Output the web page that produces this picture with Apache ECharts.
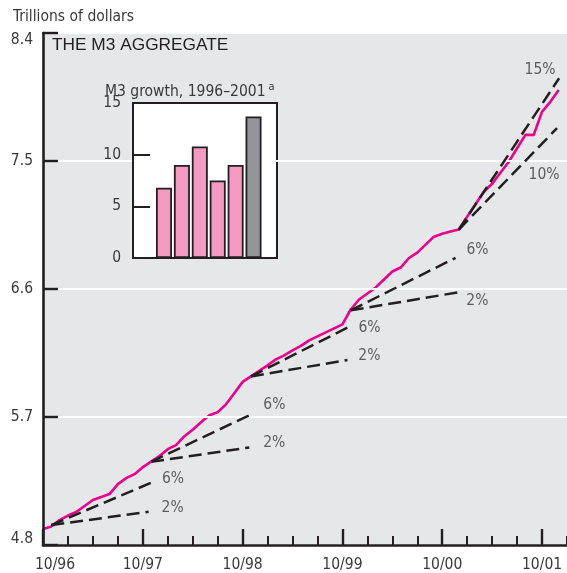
<!DOCTYPE html>
<html><head><meta charset="utf-8">
<script src="https://cdn.jsdelivr.net/npm/echarts@6.0.0/dist/echarts.min.js"></script>
<style>html,body{margin:0;padding:0;background:#fff;overflow:hidden}#c{width:567px;height:573px}</style>
</head><body><div id="c"></div>
<script>
// ---------- DATA ----------
// M3 level, trillions of dollars, monthly from 10/96 (index 0) to 12/01
const m3Values = [
  4.912, 4.930, 4.975, 5.007, 5.032, 5.074, 5.116, 5.137, 5.158, 5.228, 5.270, 5.298,
  5.347, 5.386, 5.425, 5.474, 5.502, 5.565, 5.611, 5.663, 5.712, 5.733, 5.789, 5.867,
  5.947, 5.986, 6.025, 6.063, 6.105, 6.133, 6.168, 6.200, 6.239, 6.267, 6.295, 6.323,
  6.351, 6.456, 6.526, 6.568, 6.611, 6.667, 6.723, 6.751, 6.818, 6.856, 6.912, 6.968,
  6.989, 7.004, 7.018, 7.109, 7.196, 7.284, 7.340, 7.418, 7.495, 7.590, 7.684, 7.684,
  7.846, 7.916, 8.000
];
const xTickLabels = ['10/96', '10/97', '10/98', '10/99', '10/00', '10/01'];
const yTickValues = [4.8, 5.7, 6.6, 7.5, 8.4];

// trend (growth-rate) reference lines: start/end month index and level
const trendNames      = ['2%', '6%', '2%', '6%', '2%', '6%', '2%', '6%', '10%', '15%'];
const trendStartMonth = [1, 1, 13, 13, 25, 25, 37, 37, 50, 50];
const trendStartValue = [4.940, 4.940, 5.385, 5.385, 5.985, 5.985, 6.450, 6.450, 7.018, 7.018];
const trendEndMonth   = [12.7, 13.1, 24.8, 25.05, 36.6, 36.97, 50.06, 49.6, 61.8, 62.05];
const trendEndValue   = [5.034, 5.240, 5.486, 5.719, 6.101, 6.339, 6.578, 6.819, 7.731, 8.082];

// inset: M3 growth by year, percent
const growthYears  = ['1996', '1997', '1998', '1999', '2000', '2001'];
const growthValues = [6.8, 9.0, 10.8, 7.5, 9.0, 13.7];
const growthTicks  = [0, 5, 10, 15];

// ---------- LAYOUT / STYLE ----------
function pickFont(list, fallback) {
  const c = document.createElement('canvas').getContext('2d');
  const t = 'Trillions of dollars 1996 AGGREGATE';
  c.font = '40px monospace'; const wm = c.measureText(t).width;
  c.font = '40px serif'; const ws = c.measureText(t).width;
  for (const f of list) {
    c.font = '40px "' + f + '", monospace'; const a = c.measureText(t).width;
    c.font = '40px "' + f + '", serif'; const b = c.measureText(t).width;
    if (a !== wm || b !== ws) return f;
  }
  return fallback;
}
const NARROW = pickFont(['Liberation Sans Narrow', 'Arial Narrow', 'DejaVu Sans Condensed', 'Roboto Condensed'], 'Liberation Sans');
const NS = NARROW === 'Liberation Sans Narrow' || NARROW === 'Arial Narrow' ? 18 : 15.5;
const REG = pickFont(['Liberation Sans', 'Arial', 'Helvetica'], 'sans-serif');
const TXT = '#3a3a3a';
const INK = '#231f20';
const PINK = '#ec008c';

// label offsets for the trend labels (layout only)
const trendLabelOffset = [[24,-4],[21,-3],[25,-4],[23,-9],[22,-4],[19,2],[18,9],[22,-8],[-13,47],[-19,-8]];

const X_MAX = 63;

const series = [];
series.push({
  type: 'line', xAxisIndex: 0, yAxisIndex: 0,
  data: m3Values.map((v, i) => [i, v]),
  showSymbol: false, symbol: 'none',
  lineStyle: { color: PINK, width: 2.6, join: 'round' },
  z: 3, silent: true
});
trendNames.forEach((n, k) => {
  series.push({
    type: 'line', xAxisIndex: 0, yAxisIndex: 0,
    data: [[trendStartMonth[k], trendStartValue[k]], [trendEndMonth[k], trendEndValue[k]]],
    showSymbol: false, symbol: 'none',
    lineStyle: { color: INK, width: 2.5, type: [13, 6] },
    z: 4, silent: true
  });
});
series.push({
  type: 'scatter', xAxisIndex: 0, yAxisIndex: 0,
  data: trendNames.map((n, k) => ({
    value: [trendEndMonth[k], trendEndValue[k]],
    label: { offset: trendLabelOffset[k] }
  })),
  symbolSize: 1,
  itemStyle: { color: 'rgba(0,0,0,0)' },
  label: {
    show: true, position: 'inside',
    formatter: p => trendNames[p.dataIndex],
    color: TXT, fontFamily: NARROW, fontSize: NS
  },
  z: 5, silent: true
});
series.push({
  type: 'bar', xAxisIndex: 3, yAxisIndex: 1,
  data: growthValues.map((v, i) => ({
    value: [i, v],
    itemStyle: { color: i === growthValues.length - 1 ? '#939598' : '#f49ac1' }
  })),
  barWidth: 16,
  itemStyle: { borderColor: INK, borderWidth: 1.8 },
  z: 6, silent: true
});

const option = {
  animation: false,
  backgroundColor: '#ffffff',
  title: [
    { text: 'Trillions of dollars', left: 13, top: 9, padding: 0,
      textStyle: { fontFamily: NARROW, fontSize: NS, fontWeight: 'normal', color: TXT } },
    { text: 'THE M3 AGGREGATE', left: 52, top: 37, padding: 0,
      textStyle: { fontFamily: REG, fontSize: 17.3, fontWeight: 'normal', color: INK } },
    { text: '{m|M3 growth, 1996\u20132001}{s|a}', left: 105, top: 82, padding: 0,
      textStyle: { fontWeight: 'normal', rich: {
        m: { fontFamily: NARROW, fontSize: NS, fontWeight: 'normal', color: TXT },
        s: { fontFamily: NARROW, fontSize: 11, fontWeight: 'normal', color: TXT, padding: [0, 0, 8, 3] }
      } } }
  ],
  grid: [
    { left: 43, right: -5, top: 33, bottom: 27, show: true, backgroundColor: '#e6e7e8', borderWidth: 0 },
    { left: 133, top: 103, width: 144, height: 155, show: true, backgroundColor: '#ffffff',
      borderColor: INK, borderWidth: 2, z: 1 }
  ],
  xAxis: [
    { type: 'value', gridIndex: 0, min: 0, max: X_MAX, interval: 3, position: 'bottom',
      axisLine: { show: true, onZero: false, lineStyle: { color: INK, width: 2.6 } },
      axisTick: { show: true, inside: true, length: 9, lineStyle: { color: INK, width: 2 } },
      axisLabel: { show: false }, splitLine: { show: false }, z: 4 },
    { type: 'value', gridIndex: 0, min: 0, max: X_MAX, interval: 12, position: 'bottom',
      axisLine: { show: false, onZero: false },
      axisTick: { show: true, inside: true, length: 16, lineStyle: { color: INK, width: 2.4 } },
      axisLabel: { show: true, margin: 12, color: TXT, fontFamily: NARROW, fontSize: NS,
        showMaxLabel: false,
        formatter: v => {
          if (v % 12 !== 0) return '';
          const s = xTickLabels[v / 12];
          return v === 0 ? '{f|' + s + '}' : s;
        },
        rich: { f: { fontFamily: NARROW, fontSize: NS, color: TXT, padding: [0, 0, 0, 24] } } },
      splitLine: { show: false }, z: 4 },
    { type: 'value', gridIndex: 0, min: 0, max: X_MAX, position: 'top',
      axisLine: { show: true, onZero: false, lineStyle: { color: INK, width: 2.2 } },
      axisTick: { show: false }, axisLabel: { show: false }, splitLine: { show: false } },
    { type: 'value', gridIndex: 1, min: -1.73, max: 6.31,
      axisLine: { show: false, onZero: false }, axisTick: { show: false }, axisLabel: { show: false },
      splitLine: { show: false } }
  ],
  yAxis: [
    { type: 'value', gridIndex: 0, min: yTickValues[0], max: yTickValues[yTickValues.length - 1], interval: 0.9,
      axisLine: { show: true, onZero: false, lineStyle: { color: INK, width: 2.6 } },
      axisTick: { show: true, inside: true, length: 15, lineStyle: { color: INK, width: 2.4 } },
      axisLabel: { show: true, margin: 10, color: TXT, fontFamily: NARROW, fontSize: NS,
        formatter: v => {
          const s = v.toFixed(1);
          if (Math.abs(v - yTickValues[yTickValues.length - 1]) < 1e-6) return '{t|' + s + '}';
          if (Math.abs(v - yTickValues[0]) < 1e-6) return '{b|' + s + '}';
          return s;
        },
        rich: {
          t: { fontFamily: NARROW, fontSize: NS, color: TXT, padding: [14, 0, 0, 0] },
          b: { fontFamily: NARROW, fontSize: NS, color: TXT, padding: [0, 0, 12, 0] }
        } },
      splitLine: { show: true, lineStyle: { color: '#ffffff', width: 2.2 } }, z: 4 },
    { type: 'value', gridIndex: 1, min: growthTicks[0], max: growthTicks[growthTicks.length - 1], interval: 5,
      axisLine: { show: true, onZero: false, lineStyle: { color: INK, width: 2 } },
      axisTick: { show: true, inside: true, length: 17, lineStyle: { color: INK, width: 2 } },
      axisLabel: { show: true, margin: 12, color: TXT, fontFamily: NARROW, fontSize: NS },
      splitLine: { show: false }, z: 5 }
  ],
  series: series
};
const chart = echarts.init(document.getElementById('c'), null, { renderer: 'canvas' });
chart.setOption(option);
</script>
</body></html>
